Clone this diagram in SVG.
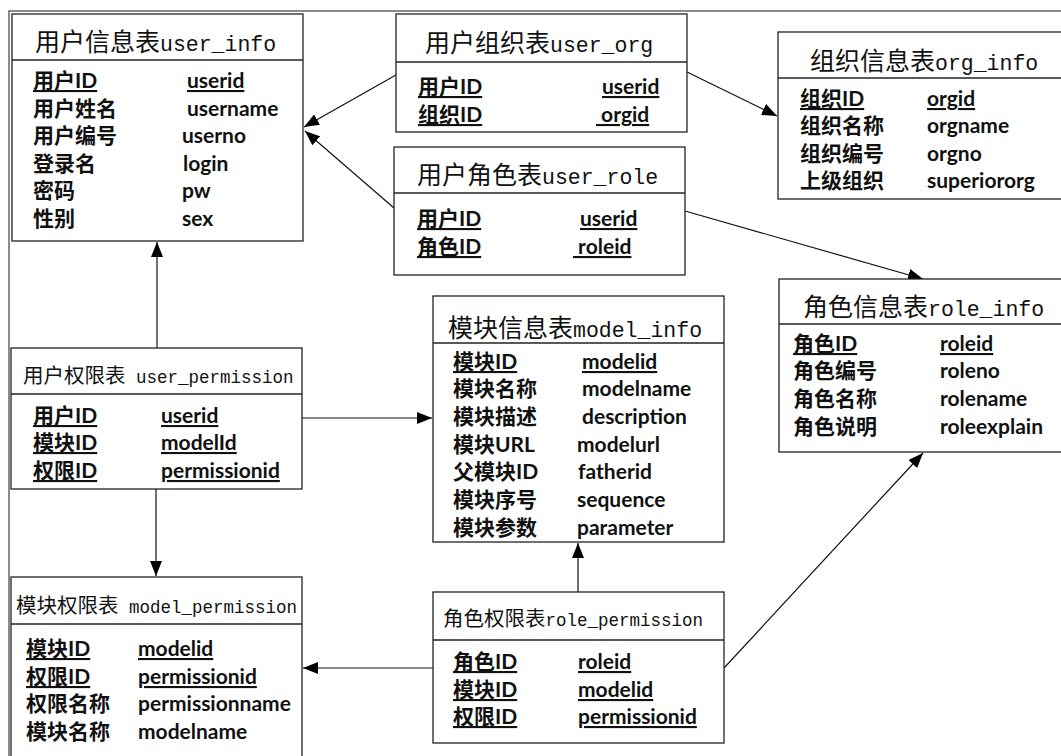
<svg xmlns="http://www.w3.org/2000/svg" width="1061" height="756" viewBox="0 0 1061 756">
<style>
.frame{fill:none;stroke:#666;stroke-width:1.5}
.box{fill:#fff;stroke:#222;stroke-width:1.3}
.hl{stroke:#222;stroke-width:1.3}
.ttl{font-family:"Liberation Mono","Noto Sans CJK SC",monospace;font-size:25px;fill:#111}
.ttl .m{font-size:21.5px}
.ttl2{font-family:"Liberation Mono","Noto Sans CJK SC",monospace;font-size:20.5px;fill:#111}
.ttl2 .m{font-size:17.5px}
.r{font-family:Lato,"Noto Sans CJK SC",sans-serif;font-weight:700;font-size:21px;fill:#111}
.u{text-decoration:underline}
.c{stroke:#111;stroke-width:1.2;fill:none;marker-end:url(#ah)}
</style>
<defs>
<marker id="ah" markerUnits="userSpaceOnUse" markerWidth="16" markerHeight="12" refX="15" refY="6" orient="auto">
<path d="M0,0 L15,6 L0,12 Z" fill="#000"/>
</marker>
</defs>
<rect x="0" y="0" width="1061" height="756" fill="#fff"/>
<rect class="frame" x="9" y="11" width="1100" height="800"/>

<g id="connectors">
<line class="c" x1="396" y1="75" x2="304" y2="127"/>
<line class="c" x1="394" y1="208" x2="305" y2="131"/>
<line class="c" x1="687" y1="72" x2="777" y2="116"/>
<line class="c" x1="685" y1="211" x2="923" y2="279"/>
<line class="c" x1="157" y1="348" x2="157" y2="242"/>
<line class="c" x1="302" y1="418" x2="432" y2="418"/>
<line class="c" x1="156" y1="489" x2="156" y2="576"/>
<line class="c" x1="578" y1="592" x2="578" y2="543"/>
<line class="c" x1="433" y1="668" x2="303" y2="668"/>
<line class="c" x1="724" y1="668" x2="923" y2="453"/>
</g>

<g id="user_info">
<rect class="box" x="12" y="14" width="291" height="227"/>
<line class="hl" x1="12" y1="60" x2="303" y2="60"/>
<text class="ttl" x="35" y="51"><tspan>用户信息表</tspan><tspan class="m">user_info</tspan></text>
<text class="r u" x="33" y="88">用户ID</text><text class="r u" x="187" y="88">userid</text>
<text class="r" x="33" y="116">用户姓名</text><text class="r" x="187" y="116">username</text>
<text class="r" x="33" y="143">用户编号</text><text class="r" x="182" y="143">userno</text>
<text class="r" x="33" y="171">登录名</text><text class="r" x="183" y="171">login</text>
<text class="r" x="33" y="198">密码</text><text class="r" x="182" y="198">pw</text>
<text class="r" x="33" y="226">性别</text><text class="r" x="182" y="226">sex</text>
</g>

<g id="user_org">
<rect class="box" x="396" y="14" width="291" height="118"/>
<line class="hl" x1="396" y1="62" x2="687" y2="62"/>
<text class="ttl" x="425" y="52"><tspan>用户组织表</tspan><tspan class="m">user_org</tspan></text>
<text class="r u" x="418" y="94">用户ID</text><text class="r u" x="602" y="94">userid</text>
<text class="r u" x="418" y="122">组织ID</text><text class="r u" x="596" y="122" xml:space="preserve"> orgid</text>
</g>

<g id="user_role">
<rect class="box" x="394" y="147" width="291" height="128"/>
<line class="hl" x1="394" y1="193" x2="685" y2="193"/>
<text class="ttl" x="417" y="184"><tspan>用户角色表</tspan><tspan class="m">user_role</tspan></text>
<text class="r u" x="417" y="226">用户ID</text><text class="r u" x="580" y="226">userid</text>
<text class="r u" x="417" y="254">角色ID</text><text class="r u" x="573" y="254" xml:space="preserve"> roleid</text>
</g>

<g id="org_info">
<rect class="box" x="778" y="32" width="300" height="167"/>
<line class="hl" x1="778" y1="78" x2="1078" y2="78"/>
<text class="ttl" x="810" y="70"><tspan>组织信息表</tspan><tspan class="m">org_info</tspan></text>
<text class="r u" x="800" y="106">组织ID</text><text class="r u" x="927" y="106">orgid</text>
<text class="r" x="800" y="133">组织名称</text><text class="r" x="927" y="133">orgname</text>
<text class="r" x="800" y="161">组织编号</text><text class="r" x="927" y="161">orgno</text>
<text class="r" x="800" y="188">上级组织</text><text class="r" x="927" y="188">superiororg</text>
</g>

<g id="role_info">
<rect class="box" x="779" y="279" width="300" height="173"/>
<line class="hl" x1="779" y1="324" x2="1079" y2="324"/>
<text class="ttl" x="803" y="316"><tspan>角色信息表</tspan><tspan class="m">role_info</tspan></text>
<text class="r u" x="793" y="351">角色ID</text><text class="r u" x="940" y="351">roleid</text>
<text class="r" x="793" y="378">角色编号</text><text class="r" x="940" y="378">roleno</text>
<text class="r" x="793" y="406">角色名称</text><text class="r" x="940" y="406">rolename</text>
<text class="r" x="793" y="434">角色说明</text><text class="r" x="940" y="434">roleexplain</text>
</g>

<g id="model_info">
<rect class="box" x="433" y="296" width="291" height="246"/>
<line class="hl" x1="433" y1="343" x2="724" y2="343"/>
<text class="ttl" x="448" y="337"><tspan>模块信息表</tspan><tspan class="m">model_info</tspan></text>
<text class="r u" x="453" y="369">模块ID</text><text class="r u" x="582" y="369">modelid</text>
<text class="r" x="453" y="396">模块名称</text><text class="r" x="582" y="396">modelname</text>
<text class="r" x="453" y="424">模块描述</text><text class="r" x="582" y="424">description</text>
<text class="r" x="453" y="452">模块URL</text><text class="r" x="577" y="452">modelurl</text>
<text class="r" x="453" y="479">父模块ID</text><text class="r" x="578" y="479">fatherid</text>
<text class="r" x="453" y="507">模块序号</text><text class="r" x="577" y="507">sequence</text>
<text class="r" x="453" y="535">模块参数</text><text class="r" x="577" y="535">parameter</text>
</g>

<g id="user_permission">
<rect class="box" x="11" y="348" width="291" height="141"/>
<line class="hl" x1="11" y1="394" x2="302" y2="394"/>
<text class="ttl2" x="23" y="383"><tspan>用户权限表</tspan><tspan class="m" xml:space="preserve"> user_permission</tspan></text>
<text class="r u" x="33" y="423">用户ID</text><text class="r u" x="161" y="423">userid</text>
<text class="r u" x="33" y="450">模块ID</text><text class="r u" x="161" y="450">modelId</text>
<text class="r u" x="33" y="478">权限ID</text><text class="r u" x="161" y="478">permissionid</text>
</g>

<g id="model_permission">
<rect class="box" x="11" y="577" width="291" height="200"/>
<line class="hl" x1="11" y1="624" x2="302" y2="624"/>
<text class="ttl2" x="16" y="613"><tspan>模块权限表</tspan><tspan class="m" xml:space="preserve"> model_permission</tspan></text>
<text class="r u" x="26" y="656">模块ID</text><text class="r u" x="138" y="656">modelid</text>
<text class="r u" x="26" y="684">权限ID</text><text class="r u" x="138" y="684">permissionid</text>
<text class="r" x="26" y="711">权限名称</text><text class="r" x="138" y="711">permissionname</text>
<text class="r" x="26" y="739">模块名称</text><text class="r" x="138" y="739">modelname</text>
</g>

<g id="role_permission">
<rect class="box" x="433" y="592" width="291" height="151"/>
<line class="hl" x1="433" y1="640" x2="724" y2="640"/>
<text class="ttl2" x="443" y="626"><tspan>角色权限表</tspan><tspan class="m">role_permission</tspan></text>
<text class="r u" x="453" y="669">角色ID</text><text class="r u" x="578" y="669">roleid</text>
<text class="r u" x="453" y="697">模块ID</text><text class="r u" x="578" y="697">modelid</text>
<text class="r u" x="453" y="724">权限ID</text><text class="r u" x="578" y="724">permissionid</text>
</g>
</svg>
